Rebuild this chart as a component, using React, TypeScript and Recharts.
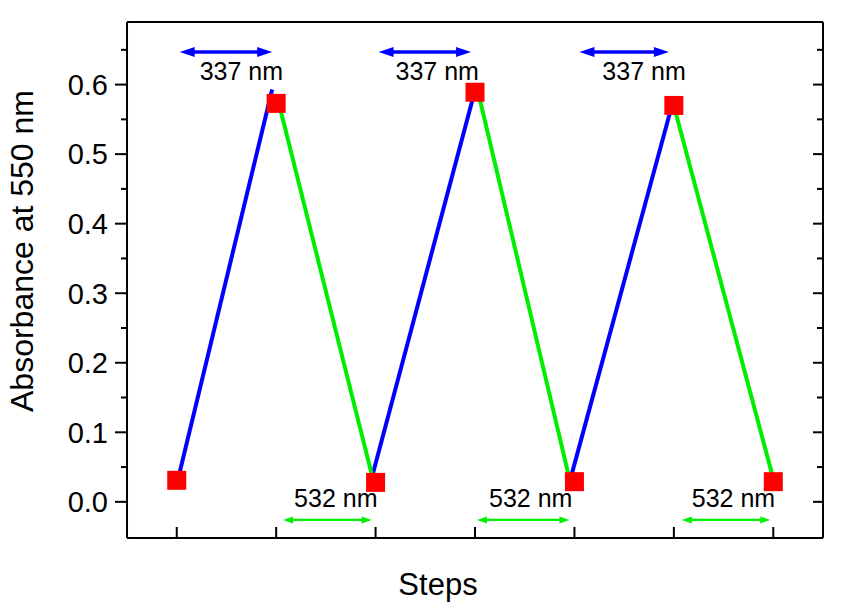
import React from "react";
import {
  ComposedChart,
  Line,
  XAxis,
  YAxis,
  ReferenceLine,
  ReferenceDot,
} from "recharts";

// measured absorbance at each step
const steps = [1, 2, 3, 4, 5, 6, 7];
const absorbance = [0.031, 0.573, 0.028, 0.589, 0.029, 0.57, 0.029];

// irradiation segments: [x start, y start, x end, y end]
const uvSegments = [
  [1.0, 0.025, 1.96, 0.593],
  [2.97, 0.039, 4.0, 0.592],
  [4.96, 0.033, 5.99, 0.575],
];
const visSegments = [
  [2.01, 0.583, 2.96, 0.04],
  [4.03, 0.59, 4.95, 0.033],
  [5.99, 0.575, 7.0, 0.033],
];

// arrows + wavelength labels
const uvArrowFrom = [1.03, 3.03, 5.05];
const uvArrowTo = [1.96, 3.96, 5.95];
const uvArrowY = 0.647;
const uvLabelX = [1.65, 3.62, 5.7];
const uvLabelY = 0.619;
const visArrowFrom = [2.07, 4.02, 6.08];
const visArrowTo = [2.96, 4.95, 6.97];
const visArrowY = -0.026;
const visLabelX = [2.6, 4.56, 6.6];
const visLabelY = 0.006;

// axes
const xDomain = [0.5, 7.5];
const yDomain = [-0.052, 0.69];
const xMajor = [1, 2, 3, 4, 5, 6, 7];
const xMinor = [1.5, 2.5, 3.5, 4.5, 5.5, 6.5];
const yMajor = [0, 0.1, 0.2, 0.3, 0.4, 0.5, 0.6];
const yMinor = [0.05, 0.15, 0.25, 0.35, 0.45, 0.55, 0.65];

const FONT = "'Liberation Sans', Arial, sans-serif";
const UV = "#0000ff";
const VIS = "#00ee00";
const THIN = 0.01; // axes need a non-zero size to be drawn

const points = steps.map((s, i) => ({ x: s, y: absorbance[i] }));
const segData = (s: number[]) => [
  { x: s[0], y: s[1] },
  { x: s[2], y: s[3] },
];

// tick={false} also drops the tick lines, so draw an empty label instead
const noTick = () => <g />;

const arrowShape = (color: string, w: number, hl: number, hw: number) =>
  (p: any) => {
    const { x1, y1, x2, y2 } = p;
    if (x1 == null) return null;
    const a = Math.min(x1, x2);
    const b = Math.max(x1, x2);
    const y = (y1 + y2) / 2;
    return (
      <g>
        <line x1={a + hl - 1} y1={y} x2={b - hl + 1} y2={y} stroke={color} strokeWidth={w} />
        <polygon points={`${a},${y} ${a + hl},${y - hw} ${a + hl},${y + hw}`} fill={color} />
        <polygon points={`${b},${y} ${b - hl},${y - hw} ${b - hl},${y + hw}`} fill={color} />
      </g>
    );
  };

const labelShape = (text: string) => (p: any) => (
  <text
    x={p.cx}
    y={p.cy}
    textAnchor="middle"
    dominantBaseline="central"
    fontSize={25}
    fontFamily={FONT}
    fill="#000"
  >
    {text}
  </text>
);

const square = (p: any) => (
  <rect key={p.index} x={p.cx - 9.5} y={p.cy - 9.5} width={19} height={19} fill="#ff0000" />
);

const axisLine = { stroke: "#000", strokeWidth: 2 };
const tickLine = { stroke: "#000", strokeWidth: 2 };

export default function App() {
  return (
    <div style={{ position: "absolute", left: 0, top: 0, background: "#fff" }}>
      <ComposedChart
        width={846}
        height={608}
        margin={{ top: 22, right: 23, bottom: 70, left: 127 }}
      >
        <XAxis
          xAxisId="main"
          dataKey="x"
          type="number"
          domain={xDomain}
          ticks={xMajor}
          allowDataOverflow
          height={THIN}
          mirror
          tick={noTick}
          tickSize={11}
          axisLine={axisLine}
          tickLine={tickLine}
          label={(props: any) => {
            const vb = props.viewBox || {};
            return (
              <text
                x={(vb.x ?? 127) + (vb.width ?? 696) / 2 - 37}
                y={(vb.y ?? 538) + 57}
                textAnchor="middle"
                fontSize={31}
                fontFamily={FONT}
                fill="#000"
              >
                Steps
              </text>
            );
          }}
        />
        <XAxis
          xAxisId="bMinor"
          type="number"
          domain={xDomain}
          ticks={xMinor}
          allowDataOverflow
          height={THIN}
          mirror
          tick={noTick}
          tickSize={5}
          axisLine={false}
          tickLine={tickLine}
        />
        <XAxis
          xAxisId="top"
          orientation="top"
          type="number"
          domain={xDomain}
          ticks={xMajor}
          allowDataOverflow
          height={THIN}
          mirror
          tick={noTick}
          tickSize={11}
          axisLine={axisLine}
          tickLine={tickLine}
        />
        <XAxis
          xAxisId="tMinor"
          orientation="top"
          type="number"
          domain={xDomain}
          ticks={xMinor}
          allowDataOverflow
          height={THIN}
          mirror
          tick={noTick}
          tickSize={6}
          axisLine={false}
          tickLine={tickLine}
        />
        <YAxis
          yAxisId="main"
          type="number"
          domain={yDomain}
          ticks={yMajor}
          allowDataOverflow
          width={THIN}
          tickSize={12}
          tickMargin={7}
          tickFormatter={(v: number) => v.toFixed(1)}
          tick={{ fill: "#000", fontSize: 29, fontFamily: FONT }}
          axisLine={axisLine}
          tickLine={tickLine}
          label={() => (
            <text
              x={33}
              y={251}
              transform="rotate(-90, 33, 251)"
              textAnchor="middle"
              fontSize={32}
              fontFamily={FONT}
              fill="#000"
            >
              Absorbance at 550 nm
            </text>
          )}
        />
        <YAxis
          yAxisId="lMinor"
          type="number"
          domain={yDomain}
          ticks={yMinor}
          allowDataOverflow
          width={THIN}
          tickSize={6}
          tick={noTick}
          axisLine={false}
          tickLine={tickLine}
        />
        <YAxis
          yAxisId="right"
          orientation="right"
          type="number"
          domain={yDomain}
          ticks={yMajor}
          allowDataOverflow
          width={THIN}
          mirror
          tickSize={10}
          tick={noTick}
          axisLine={axisLine}
          tickLine={tickLine}
        />
        <YAxis
          yAxisId="rMinor"
          orientation="right"
          type="number"
          domain={yDomain}
          ticks={yMinor}
          allowDataOverflow
          width={THIN}
          mirror
          tickSize={6}
          tick={noTick}
          axisLine={false}
          tickLine={tickLine}
        />

        {/* red squares first so the coloured lines sit on top */}
        <Line
          xAxisId="main"
          yAxisId="main"
          data={points}
          dataKey="y"
          stroke="none"
          dot={square}
          activeDot={false}
          isAnimationActive={false}
        />

        {uvSegments.map((s, i) => (
          <Line
            key={"uv" + i}
            xAxisId="main"
            yAxisId="main"
            data={segData(s)}
            dataKey="y"
            stroke={UV}
            strokeWidth={4}
            dot={false}
            activeDot={false}
            isAnimationActive={false}
          />
        ))}
        {visSegments.map((s, i) => (
          <Line
            key={"vis" + i}
            xAxisId="main"
            yAxisId="main"
            data={segData(s)}
            dataKey="y"
            stroke={VIS}
            strokeWidth={4}
            dot={false}
            activeDot={false}
            isAnimationActive={false}
          />
        ))}

        {uvArrowFrom.map((x, i) => (
          <ReferenceLine
            key={"ua" + i}
            xAxisId="main"
            yAxisId="main"
            segment={[
              { x, y: uvArrowY },
              { x: uvArrowTo[i], y: uvArrowY },
            ]}
            shape={arrowShape(UV, 3.5, 15, 5)}
          />
        ))}
        {visArrowFrom.map((x, i) => (
          <ReferenceLine
            key={"va" + i}
            xAxisId="main"
            yAxisId="main"
            segment={[
              { x, y: visArrowY },
              { x: visArrowTo[i], y: visArrowY },
            ]}
            shape={arrowShape(VIS, 2.2, 10, 3.5)}
          />
        ))}
        {uvLabelX.map((x, i) => (
          <ReferenceDot
            key={"ul" + i}
            xAxisId="main"
            yAxisId="main"
            x={x}
            y={uvLabelY}
            shape={labelShape("337 nm")}
          />
        ))}
        {visLabelX.map((x, i) => (
          <ReferenceDot
            key={"vl" + i}
            xAxisId="main"
            yAxisId="main"
            x={x}
            y={visLabelY}
            shape={labelShape("532 nm")}
          />
        ))}
      </ComposedChart>
    </div>
  );
}
